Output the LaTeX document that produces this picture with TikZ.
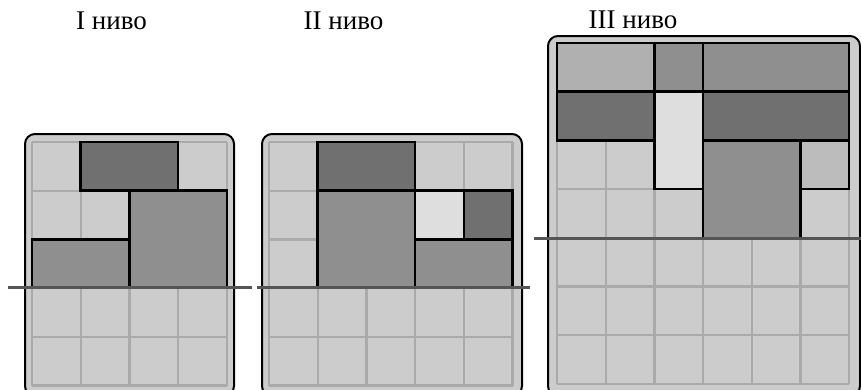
\documentclass[tikz,border=0pt]{standalone}
\usepackage{fontspec}
\setmainfont{Liberation Serif}
\definecolor{cellbg}{HTML}{CCCCCC}
\definecolor{gridln}{HTML}{AAAAAA}
\definecolor{dk}{HTML}{707070}
\definecolor{md}{HTML}{8F8F8F}
\definecolor{lt}{HTML}{DEDEDE}
\definecolor{ml}{HTML}{B0B0B0}
\definecolor{mb}{HTML}{BCBCBC}
\definecolor{cutc}{HTML}{555555}
\begin{document}
\begin{tikzpicture}[x=1pt,y=-1pt,
  frame/.style={draw=black, line width=2pt, fill=cellbg, rounded corners=10pt},
  gridl/.style={draw=gridln, line width=2.2pt},
  blk/.style={draw=black, line width=2.5pt},
  cutline/.style={draw=cutc, line width=3pt},
  lbl/.style={font=\fontsize{27}{30}\selectfont, anchor=base, inner sep=0pt}]
\useasboundingbox (0,0) rectangle (861,389);
% ---------- panel 1 ----------
\draw[frame] (25,134) rectangle (234,396);
\begin{scope}[shift={(32pt,-142pt)}, x=48.7pt, y=-48.7pt]
  \foreach \i in {0,...,4} \draw[gridl] (\i,0) -- (\i,5);
  \foreach \j in {0,...,5} \draw[gridl] (0,\j) -- (4,\j);
  \filldraw[blk, fill=dk] (1,0) rectangle (3,1);
  \filldraw[blk, fill=md] (2,1) rectangle (4,3);
  \filldraw[blk, fill=md] (0,2) rectangle (2,3);
\end{scope}
% ---------- panel 2 ----------
\draw[frame] (262,134) rectangle (522,396);
\begin{scope}[shift={(269pt,-142pt)}, x=48.7pt, y=-48.7pt]
  \foreach \i in {0,...,5} \draw[gridl] (\i,0) -- (\i,5);
  \foreach \j in {0,...,5} \draw[gridl] (0,\j) -- (5,\j);
  \filldraw[blk, fill=dk] (1,0) rectangle (3,1);
  \filldraw[blk, fill=md] (1,1) rectangle (3,3);
  \filldraw[blk, fill=lt] (3,1) rectangle (4,2);
  \filldraw[blk, fill=dk] (4,1) rectangle (5,2);
  \filldraw[blk, fill=md] (3,2) rectangle (5,3);
\end{scope}
% ---------- panel 3 ----------
\draw[frame] (548,36) rectangle (860,396);
\begin{scope}[shift={(557pt,-43pt)}, x=48.7pt, y=-48.7pt]
  \foreach \i in {0,...,6} \draw[gridl] (\i,0) -- (\i,7);
  \foreach \j in {0,...,7} \draw[gridl] (0,\j) -- (6,\j);
  \filldraw[blk, fill=ml] (0,0) rectangle (2,1);
  \filldraw[blk, fill=md] (2,0) rectangle (3,1);
  \filldraw[blk, fill=md] (3,0) rectangle (6,1);
  \filldraw[blk, fill=dk] (0,1) rectangle (2,2);
  \filldraw[blk, fill=lt] (2,1) rectangle (3,3);
  \filldraw[blk, fill=dk] (3,1) rectangle (6,2);
  \filldraw[blk, fill=md] (3,2) rectangle (5,4);
  \filldraw[blk, fill=mb] (5,2) rectangle (6,3);
\end{scope}
% ---------- cut lines ----------
\coordinate (c1a) at (8,287);   \coordinate (c1b) at (252,287);
\coordinate (c2a) at (257,287); \coordinate (c2b) at (530,287);
\coordinate (c3a) at (534,238); \coordinate (c3b) at (861,238);
\draw[cutline] (c1a) -- (c1b);
\draw[cutline] (c2a) -- (c2b);
\draw[cutline] (c3a) -- (c3b);
% ---------- labels ----------
\node[lbl] (l1) at (111.5,29) {I ниво};
\node[lbl] (l2) at (343.5,29) {II ниво};
\node[lbl] (l3) at (633,28) {III ниво};
\end{tikzpicture}
\end{document}
